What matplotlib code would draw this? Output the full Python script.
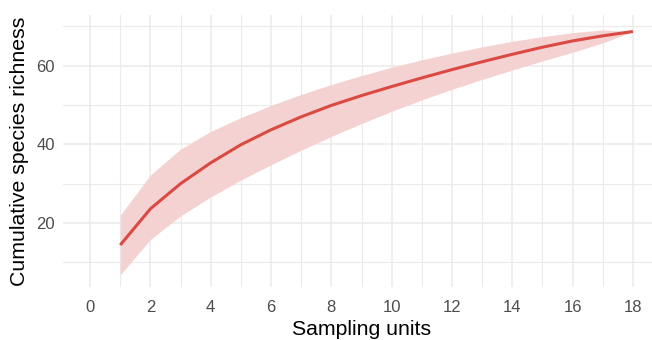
import matplotlib
matplotlib.use('Agg')
import matplotlib.pyplot as plt

# species accumulation curve
units = list(range(1, 19))
richness = [14.4, 23.6, 30.0, 35.3, 39.9, 43.7, 47.0, 49.9, 52.4, 54.7,
            56.9, 59.0, 61.0, 62.9, 64.7, 66.3, 67.6, 68.7]
upper = [22.0, 32.2, 38.8, 43.3, 46.8, 49.9, 52.7, 55.2, 57.5, 59.6,
         61.5, 63.2, 64.8, 66.2, 67.4, 68.4, 69.1, 68.7]
lower = [6.8, 15.8, 21.8, 26.6, 30.9, 34.8, 38.5, 42.0, 45.3, 48.4,
         51.3, 54.0, 56.5, 58.9, 61.2, 63.4, 65.8, 68.7]

x_ticks = list(range(0, 19, 2))
y_ticks = [20, 40, 60]

LINE_COLOR = '#DA4A43'
FILL_COLOR = '#F5D2D2'
GRID_COLOR = '#EBEBEB'

plt.rcParams['font.family'] = ['Liberation Sans', 'DejaVu Sans']

W, H = 652, 340
fig = plt.figure(figsize=(W / 100, H / 100), dpi=100)
# panel runs past the right edge, as in the (cropped) reference
left, right, top, bottom = 63, 660, 15, 287
ax = fig.add_axes([left / W, (H - bottom) / H, (right - left) / W, (bottom - top) / H])

ax.fill_between(units, lower, upper, color=FILL_COLOR, linewidth=0, zorder=2)
ax.plot(units, richness, color=LINE_COLOR, linewidth=2.2, zorder=3, solid_capstyle='butt')

ax.set_xlim(-0.9, 18.9)
ax.set_ylim(3.7, 72.9)
ax.set_xticks(x_ticks)
ax.set_yticks(y_ticks)
ax.set_xticks(range(1, 19, 2), minor=True)
ax.set_yticks([10, 30, 50, 70], minor=True)

ax.grid(which='major', color=GRID_COLOR, linewidth=1.1, zorder=0)
ax.grid(which='minor', color=GRID_COLOR, linewidth=0.8, zorder=0)
ax.set_axisbelow(True)

for s in ax.spines.values():
    s.set_visible(False)
ax.tick_params(which='both', length=0)
ax.tick_params(axis='both', labelsize=12, labelcolor='#4D4D4D')
ax.tick_params(axis='x', pad=9)
ax.tick_params(axis='y', pad=6)

ax.set_xlabel('Sampling units', fontsize=15.3, color='black', labelpad=4)
ax.set_ylabel('Cumulative species richness', fontsize=15.3, color='black', labelpad=5)

fig.savefig('out.png', dpi=100)
plt.close(fig)
